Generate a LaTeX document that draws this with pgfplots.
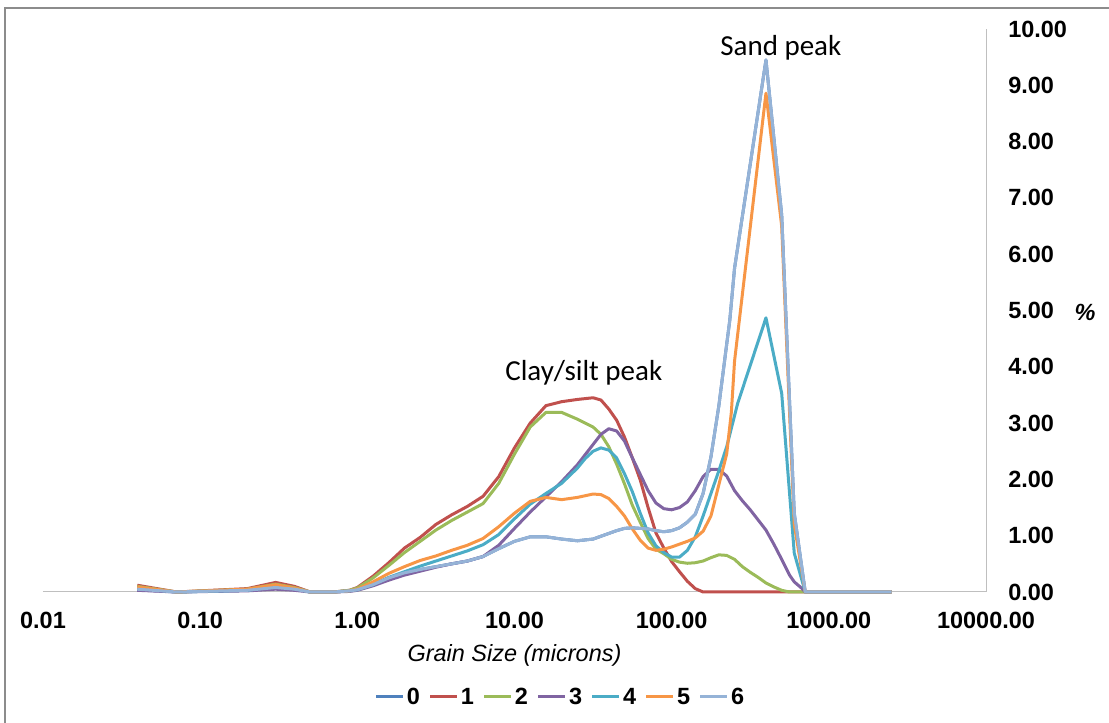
\documentclass[border=0pt]{standalone}
\usepackage{fontspec}
\setmainfont{Liberation Sans}
\newfontfamily\calib{Carlito}
\usepackage{pgfplots}
\pgfplotsset{compat=1.18}

\definecolor{c0}{HTML}{4F81BD}
\definecolor{c1}{HTML}{C0504D}
\definecolor{c2}{HTML}{9BBB59}
\definecolor{c3}{HTML}{8064A2}
\definecolor{c4}{HTML}{4BACC6}
\definecolor{c5}{HTML}{F79646}
\definecolor{c6}{HTML}{95B3D7}

\newcommand{\lblfont}{\fontsize{17.6}{20}\selectfont}

\begin{document}
\begin{tikzpicture}
\useasboundingbox (0,0) rectangle (831.75pt,542.25pt);
% chart frame
\draw[black!45, line width=1pt] (3.75pt,-5pt) -- (3.75pt,536.25pt) -- (840pt,536.25pt);
\begin{axis}[
  at={(32.25pt,98.25pt)}, anchor=south west,
  scale only axis, width=707.25pt, height=422.25pt,
  xmode=log, xmin=0.01, xmax=10000, ymin=0, ymax=10,
  axis x line*=bottom, axis y line*=right,
  axis line style={-, draw=black!25, line width=0.75pt},
  xtick={0.01,0.1,1,10,100,1000,10000},
  xticklabels={0.01,0.10,1.00,10.00,100.00,1000.00,10000.00},
  ytick={0,1,2,3,4,5,6,7,8,9,10},
  yticklabels={0.00,1.00,2.00,3.00,4.00,5.00,6.00,7.00,8.00,9.00,10.00},
  major tick length=0pt, minor tick length=0pt,
  xticklabel style={anchor=base, yshift=-27.3pt, inner sep=0pt},
  yticklabel style={anchor=west, xshift=16.5pt, inner sep=0pt},
  ticklabel style={font=\lblfont\bfseries},
  clip=false,
  no markers,
  every axis plot/.append style={line width=2.25pt, line join=round},
  legend columns=7,
  legend style={draw=none, fill=none, at={(0.549,-0.1865)}, anchor=center,
    font=\lblfont\bfseries, inner sep=0pt,
    /tikz/every even column/.append style={column sep=4.5pt}},
  legend image code/.code={\draw[#1, line width=2.25pt] (0pt,0pt) -- (20pt,0pt);},
]
% sample 0
\addplot[c0] coordinates {(0.0398,0.04)(0.0708,0)(0.1995,0.03)(0.302,0.08)(0.3981,0.05)(0.5012,0)(0.7079,0)(0.8913,0.02)(1,0.04)(1.259,0.13)(1.585,0.25)(1.995,0.34)(2.512,0.40)(3.162,0.45)(3.981,0.50)(5.012,0.55)(6.31,0.63)(7.943,0.77)(10,0.90)(12.59,0.98)(15.85,0.98)(19.95,0.94)(25.12,0.91)(31.62,0.94)(35.48,0.99)(39.81,1.04)(44.67,1.09)(50.12,1.13)(56.23,1.14)(63.1,1.13)(70.79,1.12)(79.43,1.09)(89.13,1.07)(100,1.09)(112.2,1.14)(125.9,1.24)(141.3,1.38)(158.5,1.75)(177.8,2.40)(199.5,3.30)(223.9,4.40)(234.4,4.83)(251.2,5.75)(398.1,9.45)(501.2,6.70)(602.6,1.40)(707.9,0)(2512,0)};
\addlegendentry{0}
% sample 1
\addplot[c1] coordinates {(0.0398,0.12)(0.0708,0)(0.1995,0.06)(0.302,0.17)(0.3981,0.10)(0.5012,0)(0.7079,0)(0.8913,0.03)(1,0.08)(1.259,0.28)(1.585,0.52)(1.995,0.78)(2.512,0.97)(3.162,1.20)(3.981,1.37)(5.012,1.52)(6.31,1.70)(7.943,2.05)(10,2.56)(12.59,3.00)(15.85,3.31)(19.95,3.38)(25.12,3.42)(31.62,3.45)(35.48,3.41)(39.81,3.25)(44.67,3.05)(50.12,2.75)(56.23,2.38)(63.1,1.99)(70.79,1.50)(79.43,1.05)(89.13,0.78)(100,0.54)(112.2,0.36)(125.9,0.19)(141.3,0.06)(158.5,0)(2512,0)};
\addlegendentry{1}
% sample 2
\addplot[c2] coordinates {(0.0398,0.10)(0.0708,0)(0.1995,0.05)(0.302,0.14)(0.3981,0.08)(0.5012,0)(0.7079,0)(0.8913,0.03)(1,0.07)(1.259,0.25)(1.585,0.47)(1.995,0.70)(2.512,0.90)(3.162,1.10)(3.981,1.27)(5.012,1.42)(6.31,1.57)(7.943,1.93)(10,2.45)(12.59,2.93)(15.85,3.19)(19.95,3.19)(25.12,3.07)(31.62,2.93)(35.48,2.80)(39.81,2.58)(44.67,2.27)(50.12,1.92)(56.23,1.54)(63.1,1.24)(70.79,0.95)(79.43,0.76)(89.13,0.68)(100,0.58)(112.2,0.53)(125.9,0.51)(141.3,0.52)(158.5,0.55)(177.8,0.61)(199.5,0.66)(223.9,0.65)(251.2,0.58)(281.8,0.45)(316.2,0.35)(354.8,0.26)(398.1,0.16)(446.7,0.09)(501.2,0.03)(562.3,0)(2512,0)};
\addlegendentry{2}
% sample 3
\addplot[c3] coordinates {(0.0398,0.03)(0.0708,0)(0.1995,0.02)(0.302,0.05)(0.3981,0.03)(0.5012,0)(0.7079,0)(0.8913,0.01)(1,0.03)(1.259,0.11)(1.585,0.21)(1.995,0.30)(2.512,0.37)(3.162,0.44)(3.981,0.50)(5.012,0.55)(6.31,0.63)(7.943,0.83)(10,1.13)(12.59,1.42)(15.85,1.69)(19.95,1.96)(25.12,2.26)(28.18,2.44)(31.62,2.62)(35.48,2.80)(39.81,2.90)(44.67,2.86)(50.12,2.68)(56.23,2.38)(63.1,2.09)(70.79,1.80)(79.43,1.58)(89.13,1.48)(100,1.46)(112.2,1.50)(125.9,1.60)(141.3,1.80)(158.5,2.05)(177.8,2.18)(199.5,2.18)(223.9,2.06)(251.2,1.80)(281.8,1.62)(316.2,1.46)(354.8,1.28)(398.1,1.10)(446.7,0.85)(501.2,0.58)(562.3,0.30)(602.6,0.18)(676.1,0.06)(707.9,0)(2512,0)};
\addlegendentry{3}
% sample 4
\addplot[c4] coordinates {(0.0398,0.07)(0.0708,0)(0.1995,0.03)(0.302,0.10)(0.3981,0.06)(0.5012,0)(0.7079,0)(0.8913,0.02)(1,0.04)(1.259,0.13)(1.585,0.26)(1.995,0.36)(2.512,0.46)(3.162,0.55)(3.981,0.64)(5.012,0.73)(6.31,0.84)(7.943,1.02)(10,1.30)(12.59,1.56)(15.85,1.75)(19.95,1.93)(25.12,2.20)(28.18,2.37)(31.62,2.50)(35.48,2.56)(39.81,2.52)(44.67,2.38)(50.12,2.10)(56.23,1.78)(63.1,1.40)(70.79,1.05)(79.43,0.82)(89.13,0.70)(100,0.62)(112.2,0.62)(125.9,0.74)(141.3,0.98)(158.5,1.35)(177.8,1.75)(199.5,2.15)(223.9,2.58)(263.0,3.35)(398.1,4.87)(501.2,3.53)(602.6,0.69)(707.9,0)(2512,0)};
\addlegendentry{4}
% sample 5
\addplot[c5] coordinates {(0.0398,0.09)(0.0708,0)(0.1995,0.05)(0.302,0.13)(0.3981,0.07)(0.5012,0)(0.7079,0)(0.8913,0.02)(1,0.05)(1.259,0.18)(1.585,0.33)(1.995,0.45)(2.512,0.56)(3.162,0.64)(3.981,0.74)(5.012,0.83)(6.31,0.95)(7.943,1.16)(10,1.40)(12.59,1.61)(15.85,1.68)(19.95,1.64)(25.12,1.68)(31.62,1.74)(35.48,1.73)(39.81,1.66)(44.67,1.52)(50.12,1.35)(56.23,1.12)(63.1,0.92)(70.79,0.78)(79.43,0.74)(89.13,0.76)(100,0.80)(112.2,0.85)(125.9,0.90)(141.3,0.96)(158.5,1.08)(177.8,1.35)(199.5,1.90)(223.9,2.45)(239.9,3.20)(251.2,4.10)(398.1,8.86)(501.2,6.50)(602.6,1.20)(707.9,0)(2512,0)};
\addlegendentry{5}
% sample 6
\addplot[c6] coordinates {(0.0398,0.05)(0.0708,0)(0.1995,0.03)(0.302,0.08)(0.3981,0.05)(0.5012,0)(0.7079,0)(0.8913,0.02)(1,0.04)(1.259,0.13)(1.585,0.25)(1.995,0.34)(2.512,0.40)(3.162,0.45)(3.981,0.50)(5.012,0.55)(6.31,0.63)(7.943,0.77)(10,0.90)(12.59,0.98)(15.85,0.98)(19.95,0.94)(25.12,0.91)(31.62,0.94)(35.48,0.99)(39.81,1.04)(44.67,1.09)(50.12,1.13)(56.23,1.14)(63.1,1.13)(70.79,1.12)(79.43,1.09)(89.13,1.07)(100,1.09)(112.2,1.14)(125.9,1.24)(141.3,1.38)(158.5,1.75)(177.8,2.40)(199.5,3.30)(223.9,4.40)(234.4,4.83)(251.2,5.75)(398.1,9.45)(501.2,6.70)(602.6,1.40)(707.9,0)(2512,0)};
\addlegendentry{6}

% peak annotations
\node[font=\calib\fontsize{21.75}{24}\selectfont] at (axis cs:27.6,3.89) {Clay/silt peak};
\node[font=\calib\fontsize{21.75}{24}\selectfont] at (axis cs:495,9.66) {Sand peak};
% axis titles
\node[font=\lblfont\itshape] at ([yshift=-47.25pt]rel axis cs:0.5,0) {Grain Size (microns)};
\node[font=\lblfont\bfseries\itshape] at ([xshift=74.25pt]rel axis cs:1,0.497) {\%};
\end{axis}
\end{tikzpicture}
\end{document}
